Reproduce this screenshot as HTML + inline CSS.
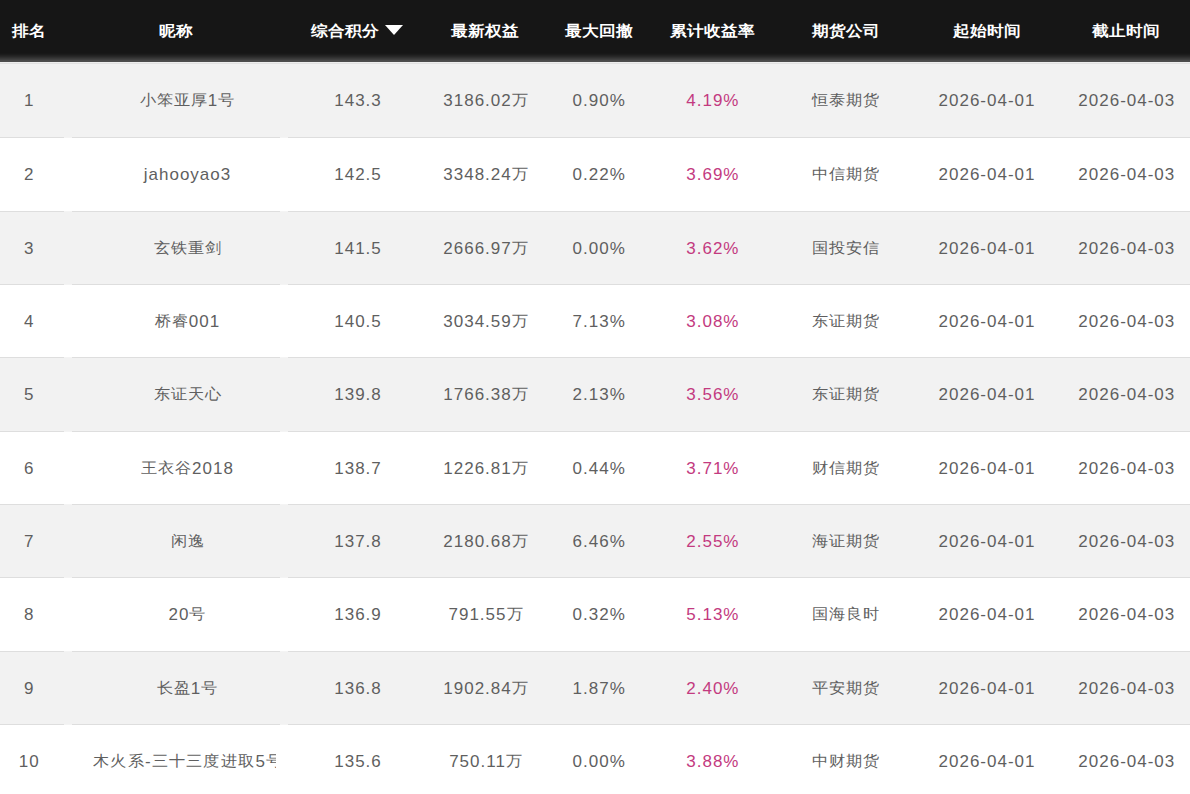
<!DOCTYPE html>
<html><head><meta charset="utf-8"><title>排行榜</title>
<style>
html,body{margin:0;padding:0;background:#fff;overflow:hidden}
body{width:1190px;height:794px;position:relative;font-family:"Liberation Sans",sans-serif}
.hdr{position:absolute;left:0;top:0;width:1190px;height:62px;background:linear-gradient(to bottom,#161616 0px,#161616 52.5px,#181818 53.5px,#1c1c1c 54.5px,#222 55.5px,#282828 56.5px,#303030 57.5px,#383838 58.5px,#404040 59.5px,#4a4a4a 60.5px,#4d4d4d 61.5px,#4d4d4d 62px)}
.h{position:absolute;top:1px;height:62px;line-height:62px;width:200px;text-align:center;color:#fff;font-weight:bold;font-size:17px;white-space:nowrap;transform:scaleY(.9);transform-origin:50% 50%}
.r{position:absolute;left:0;width:1190px}
.odd{background:#f2f2f2}
.gp{position:absolute;width:8px;height:1px;background:#f4f4f4}
.ln{position:absolute;left:0;width:1190px;height:1px;background:#dedede}
.t{position:absolute;width:200px;height:20px;line-height:20px;text-align:center;font-size:17px;letter-spacing:1px;color:#5f5f5f;white-space:nowrap}
.c{display:inline-block;position:relative;top:-1px;font-size:16px;letter-spacing:1px;line-height:20px;transform:scaleY(.925);transform-origin:50% 75%}
.p{color:#c33a80}
.tri{position:absolute;left:385px;top:25px;width:0;height:0;border-left:9.5px solid transparent;border-right:9.5px solid transparent;border-top:10px solid #fff}
.nm .c{letter-spacing:1.3px}
.nm{position:absolute;overflow:hidden;white-space:nowrap;height:20px;line-height:20px;font-size:17px;letter-spacing:1px;color:#5f5f5f}
</style></head><body>
<div class="r odd" style="top:62px;height:75px"></div>
<div class="r" style="top:138px;height:73px"></div>
<div class="r odd" style="top:212px;height:72px"></div>
<div class="r" style="top:285px;height:72px"></div>
<div class="r odd" style="top:358px;height:73px"></div>
<div class="r" style="top:432px;height:72px"></div>
<div class="r odd" style="top:505px;height:72px"></div>
<div class="r" style="top:578px;height:73px"></div>
<div class="r odd" style="top:652px;height:72px"></div>
<div class="r" style="top:725px;height:69px"></div>
<div class="hdr"></div>
<div class="r" style="top:62px;height:1px;background:#eeeeee"></div>
<div class="r" style="top:63px;height:1px;background:#e2e2e2"></div>
<div class="ln" style="top:137px"></div>
<div class="gp" style="top:137px;left:64px"></div>
<div class="gp" style="top:137px;left:280px"></div>
<div class="ln" style="top:211px"></div>
<div class="gp" style="top:211px;left:64px"></div>
<div class="gp" style="top:211px;left:280px"></div>
<div class="ln" style="top:284px"></div>
<div class="gp" style="top:284px;left:64px"></div>
<div class="gp" style="top:284px;left:280px"></div>
<div class="ln" style="top:357px"></div>
<div class="gp" style="top:357px;left:64px"></div>
<div class="gp" style="top:357px;left:280px"></div>
<div class="ln" style="top:431px"></div>
<div class="gp" style="top:431px;left:64px"></div>
<div class="gp" style="top:431px;left:280px"></div>
<div class="ln" style="top:504px"></div>
<div class="gp" style="top:504px;left:64px"></div>
<div class="gp" style="top:504px;left:280px"></div>
<div class="ln" style="top:577px"></div>
<div class="gp" style="top:577px;left:64px"></div>
<div class="gp" style="top:577px;left:280px"></div>
<div class="ln" style="top:651px"></div>
<div class="gp" style="top:651px;left:64px"></div>
<div class="gp" style="top:651px;left:280px"></div>
<div class="ln" style="top:724px"></div>
<div class="gp" style="top:724px;left:64px"></div>
<div class="gp" style="top:724px;left:280px"></div>
<div class="h" style="left:-71.5px">排名</div>
<div class="h" style="left:76.0px">昵称</div>
<div class="h" style="left:385.4px">最新权益</div>
<div class="h" style="left:498.7px">最大回撤</div>
<div class="h" style="left:612.3px">累计收益率</div>
<div class="h" style="left:746.3px">期货公司</div>
<div class="h" style="left:886.7px">起始时间</div>
<div class="h" style="left:1026.1px">截止时间</div>
<div class="h" style="left:311px;width:auto;text-align:left">综合积分</div>
<div class="tri"></div>
<div class="t" style="left:-70.7px;top:91px">1</div>
<div class="t" style="left:87.5px;top:91px"><span class="c">小笨亚厚</span>1<span class="c">号</span></div>
<div class="t" style="left:258.0px;top:91px">143.3</div>
<div class="t" style="left:386.0px;top:91px">3186.02<span class="c">万</span></div>
<div class="t" style="left:499.2px;top:91px">0.90%</div>
<div class="t p" style="left:612.9px;top:91px">4.19%</div>
<div class="t" style="left:745.8px;top:91px"><span class="c">恒泰期货</span></div>
<div class="t" style="left:887.0px;top:91px">2026-04-01</div>
<div class="t" style="left:1026.8px;top:91px">2026-04-03</div>
<div class="t" style="left:-70.7px;top:165px">2</div>
<div class="t" style="left:87.5px;top:165px">jahooyao3</div>
<div class="t" style="left:258.0px;top:165px">142.5</div>
<div class="t" style="left:386.0px;top:165px">3348.24<span class="c">万</span></div>
<div class="t" style="left:499.2px;top:165px">0.22%</div>
<div class="t p" style="left:612.9px;top:165px">3.69%</div>
<div class="t" style="left:745.8px;top:165px"><span class="c">中信期货</span></div>
<div class="t" style="left:887.0px;top:165px">2026-04-01</div>
<div class="t" style="left:1026.8px;top:165px">2026-04-03</div>
<div class="t" style="left:-70.7px;top:239px">3</div>
<div class="t" style="left:87.5px;top:239px"><span class="c">玄铁重剑</span></div>
<div class="t" style="left:258.0px;top:239px">141.5</div>
<div class="t" style="left:386.0px;top:239px">2666.97<span class="c">万</span></div>
<div class="t" style="left:499.2px;top:239px">0.00%</div>
<div class="t p" style="left:612.9px;top:239px">3.62%</div>
<div class="t" style="left:745.8px;top:239px"><span class="c">国投安信</span></div>
<div class="t" style="left:887.0px;top:239px">2026-04-01</div>
<div class="t" style="left:1026.8px;top:239px">2026-04-03</div>
<div class="t" style="left:-70.7px;top:312px">4</div>
<div class="t" style="left:87.5px;top:312px"><span class="c">桥睿</span>001</div>
<div class="t" style="left:258.0px;top:312px">140.5</div>
<div class="t" style="left:386.0px;top:312px">3034.59<span class="c">万</span></div>
<div class="t" style="left:499.2px;top:312px">7.13%</div>
<div class="t p" style="left:612.9px;top:312px">3.08%</div>
<div class="t" style="left:745.8px;top:312px"><span class="c">东证期货</span></div>
<div class="t" style="left:887.0px;top:312px">2026-04-01</div>
<div class="t" style="left:1026.8px;top:312px">2026-04-03</div>
<div class="t" style="left:-70.7px;top:385px">5</div>
<div class="t" style="left:87.5px;top:385px"><span class="c">东证天心</span></div>
<div class="t" style="left:258.0px;top:385px">139.8</div>
<div class="t" style="left:386.0px;top:385px">1766.38<span class="c">万</span></div>
<div class="t" style="left:499.2px;top:385px">2.13%</div>
<div class="t p" style="left:612.9px;top:385px">3.56%</div>
<div class="t" style="left:745.8px;top:385px"><span class="c">东证期货</span></div>
<div class="t" style="left:887.0px;top:385px">2026-04-01</div>
<div class="t" style="left:1026.8px;top:385px">2026-04-03</div>
<div class="t" style="left:-70.7px;top:459px">6</div>
<div class="t" style="left:87.5px;top:459px"><span class="c">王衣谷</span>2018</div>
<div class="t" style="left:258.0px;top:459px">138.7</div>
<div class="t" style="left:386.0px;top:459px">1226.81<span class="c">万</span></div>
<div class="t" style="left:499.2px;top:459px">0.44%</div>
<div class="t p" style="left:612.9px;top:459px">3.71%</div>
<div class="t" style="left:745.8px;top:459px"><span class="c">财信期货</span></div>
<div class="t" style="left:887.0px;top:459px">2026-04-01</div>
<div class="t" style="left:1026.8px;top:459px">2026-04-03</div>
<div class="t" style="left:-70.7px;top:532px">7</div>
<div class="t" style="left:87.5px;top:532px"><span class="c">闲逸</span></div>
<div class="t" style="left:258.0px;top:532px">137.8</div>
<div class="t" style="left:386.0px;top:532px">2180.68<span class="c">万</span></div>
<div class="t" style="left:499.2px;top:532px">6.46%</div>
<div class="t p" style="left:612.9px;top:532px">2.55%</div>
<div class="t" style="left:745.8px;top:532px"><span class="c">海证期货</span></div>
<div class="t" style="left:887.0px;top:532px">2026-04-01</div>
<div class="t" style="left:1026.8px;top:532px">2026-04-03</div>
<div class="t" style="left:-70.7px;top:605px">8</div>
<div class="t" style="left:87.5px;top:605px">20<span class="c">号</span></div>
<div class="t" style="left:258.0px;top:605px">136.9</div>
<div class="t" style="left:386.0px;top:605px">791.55<span class="c">万</span></div>
<div class="t" style="left:499.2px;top:605px">0.32%</div>
<div class="t p" style="left:612.9px;top:605px">5.13%</div>
<div class="t" style="left:745.8px;top:605px"><span class="c">国海良时</span></div>
<div class="t" style="left:887.0px;top:605px">2026-04-01</div>
<div class="t" style="left:1026.8px;top:605px">2026-04-03</div>
<div class="t" style="left:-70.7px;top:679px">9</div>
<div class="t" style="left:87.5px;top:679px"><span class="c">长盈</span>1<span class="c">号</span></div>
<div class="t" style="left:258.0px;top:679px">136.8</div>
<div class="t" style="left:386.0px;top:679px">1902.84<span class="c">万</span></div>
<div class="t" style="left:499.2px;top:679px">1.87%</div>
<div class="t p" style="left:612.9px;top:679px">2.40%</div>
<div class="t" style="left:745.8px;top:679px"><span class="c">平安期货</span></div>
<div class="t" style="left:887.0px;top:679px">2026-04-01</div>
<div class="t" style="left:1026.8px;top:679px">2026-04-03</div>
<div class="t" style="left:-70.7px;top:752px">10</div>
<div class="nm" style="left:93px;width:183px;top:752px"><span class="c">木火系</span>-<span class="c">三十三度进取</span>5<span class="c">号</span></div>
<div class="t" style="left:258.0px;top:752px">135.6</div>
<div class="t" style="left:386.0px;top:752px">750.11<span class="c">万</span></div>
<div class="t" style="left:499.2px;top:752px">0.00%</div>
<div class="t p" style="left:612.9px;top:752px">3.88%</div>
<div class="t" style="left:745.8px;top:752px"><span class="c">中财期货</span></div>
<div class="t" style="left:887.0px;top:752px">2026-04-01</div>
<div class="t" style="left:1026.8px;top:752px">2026-04-03</div>
</body></html>
